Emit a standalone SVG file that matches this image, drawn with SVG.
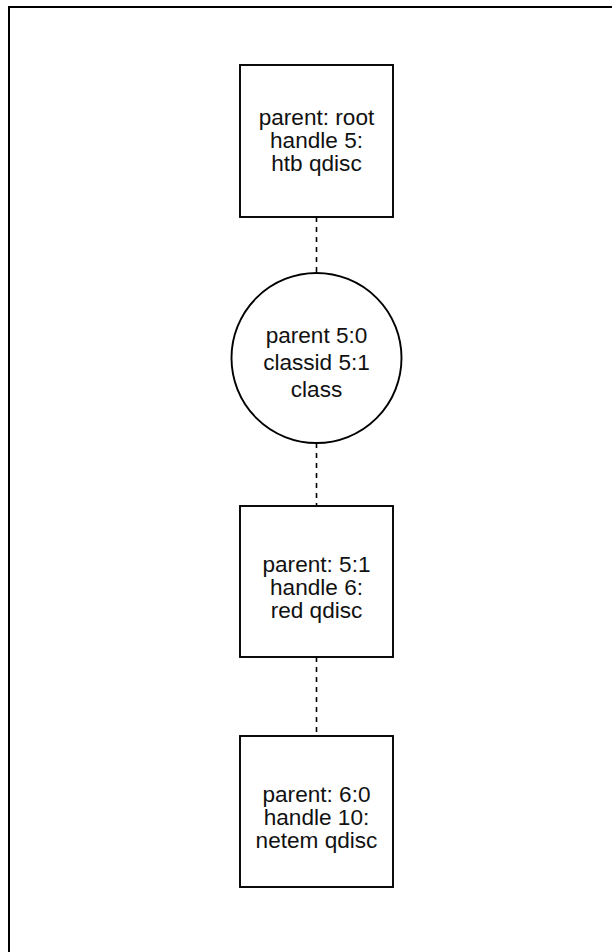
<svg xmlns="http://www.w3.org/2000/svg" width="612" height="952" viewBox="0 0 612 952">
  <style>
    .frame { fill: #ffffff; stroke: #000000; stroke-width: 2; }
    .node { fill: #ffffff; stroke: #000000; stroke-width: 1.9; }
    .link { stroke: #000000; stroke-width: 1.6; stroke-dasharray: 5 5; fill: none; }
    .label { font-family: "Liberation Sans", Arial, sans-serif; font-size: 22.6px; fill: #111111; text-anchor: middle; }
  </style>
  <rect width="612" height="952" fill="#ffffff"/>
  <!-- outer frame (runs off the right and bottom edges) -->
  <rect class="frame" x="9" y="7" width="640" height="980"/>

  <g id="connectors">
    <line class="link" x1="316.5" y1="217" x2="316.5" y2="273"/>
    <line class="link" x1="316.5" y1="443" x2="316.5" y2="506"/>
    <line class="link" x1="316.5" y1="657" x2="316.5" y2="736"/>
  </g>

  <g id="htb-qdisc">
    <rect class="node" x="240" y="65" width="153" height="152"/>
    <text class="label" x="316.5" y="125">parent: root</text>
    <text class="label" x="316.5" y="148">handle 5:</text>
    <text class="label" x="316.5" y="171">htb qdisc</text>
  </g>

  <g id="htb-class">
    <circle class="node" cx="316.5" cy="358" r="85"/>
    <text class="label" x="316.5" y="343">parent 5:0</text>
    <text class="label" x="316.5" y="370">classid 5:1</text>
    <text class="label" x="316.5" y="397">class</text>
  </g>

  <g id="red-qdisc">
    <rect class="node" x="240" y="506" width="153" height="151"/>
    <text class="label" x="316.5" y="572">parent: 5:1</text>
    <text class="label" x="316.5" y="595">handle 6:</text>
    <text class="label" x="316.5" y="618">red qdisc</text>
  </g>

  <g id="netem-qdisc">
    <rect class="node" x="240" y="736" width="153" height="151"/>
    <text class="label" x="316.5" y="802">parent: 6:0</text>
    <text class="label" x="316.5" y="825">handle 10:</text>
    <text class="label" x="316.5" y="848">netem qdisc</text>
  </g>
</svg>
